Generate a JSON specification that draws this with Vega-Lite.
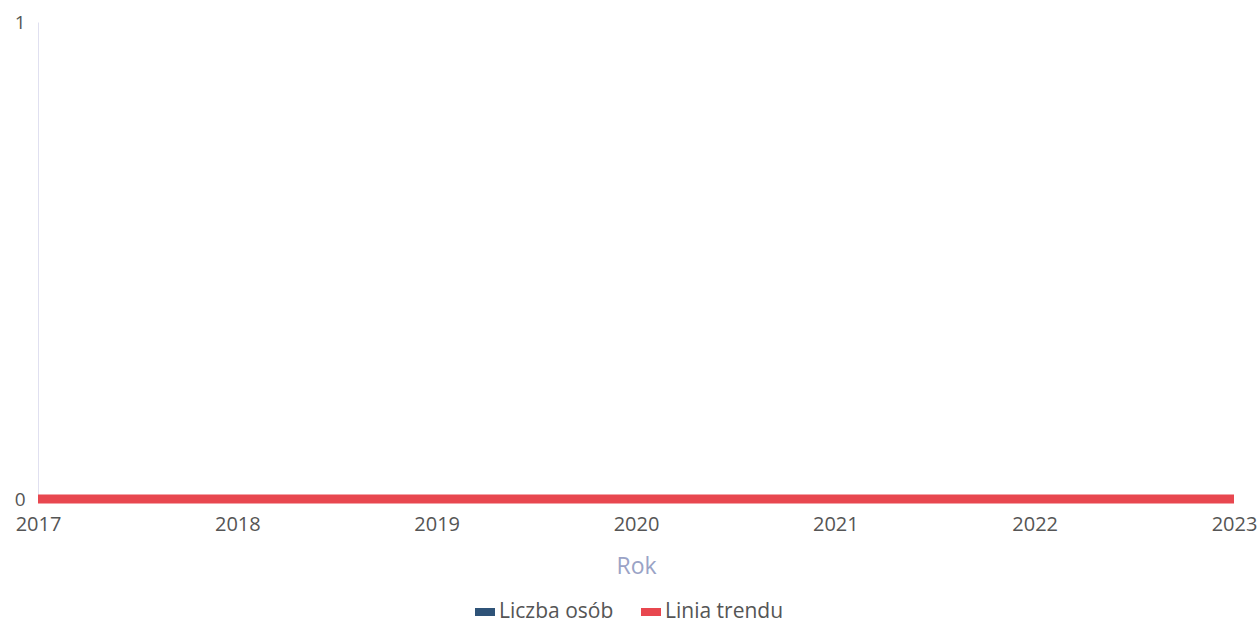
{
  "$schema": "https://vega.github.io/schema/vega-lite/v6.json",
  "autosize": "none",
  "width": 1196,
  "height": 477,
  "padding": {"left": 38, "top": 22, "right": 24, "bottom": 128},
  "background": "white",
  "config": {
    "font": "Open Sans",
    "view": {"stroke": null},
    "axis": {"labelFont": "Open Sans", "titleFont": "Open Sans"}
  },
  "data": {
    "values": [
      {"Rok": 2017, "seria": "Liczba osób", "wartosc": 0},
      {"Rok": 2018, "seria": "Liczba osób", "wartosc": 0},
      {"Rok": 2019, "seria": "Liczba osób", "wartosc": 0},
      {"Rok": 2020, "seria": "Liczba osób", "wartosc": 0},
      {"Rok": 2021, "seria": "Liczba osób", "wartosc": 0},
      {"Rok": 2022, "seria": "Liczba osób", "wartosc": 0},
      {"Rok": 2023, "seria": "Liczba osób", "wartosc": 0},
      {"Rok": 2017, "seria": "Linia trendu", "wartosc": 0},
      {"Rok": 2018, "seria": "Linia trendu", "wartosc": 0},
      {"Rok": 2019, "seria": "Linia trendu", "wartosc": 0},
      {"Rok": 2020, "seria": "Linia trendu", "wartosc": 0},
      {"Rok": 2021, "seria": "Linia trendu", "wartosc": 0},
      {"Rok": 2022, "seria": "Linia trendu", "wartosc": 0},
      {"Rok": 2023, "seria": "Linia trendu", "wartosc": 0}
    ]
  },
  "encoding": {
    "x": {
      "field": "Rok",
      "type": "quantitative",
      "scale": {"domain": [2017, 2023], "nice": false, "zero": false},
      "axis": {
        "values": [2017, 2018, 2019, 2020, 2021, 2022, 2023],
        "format": "d",
        "title": "Rok",
        "titleColor": "#9aa3c6",
        "titleFontSize": 23,
        "titleFontWeight": "normal",
        "titlePadding": 21,
        "labelColor": "#555555",
        "labelFontSize": 20,
        "labelPadding": 15,
        "labelFlush": false,
        "labelOverlap": false,
        "ticks": false,
        "domain": false,
        "grid": false
      }
    },
    "y": {
      "field": "wartosc",
      "type": "quantitative",
      "scale": {"domain": [0, 1], "nice": false},
      "axis": {
        "values": [0, 1],
        "format": "d",
        "title": null,
        "labelColor": "#555555",
        "labelFontSize": 19,
        "labelPadding": 13,
        "labelFlush": false,
        "ticks": false,
        "domain": true,
        "domainColor": "#e0e0f0",
        "domainWidth": 1,
        "grid": false
      }
    },
    "color": {
      "field": "seria",
      "type": "nominal",
      "scale": {"domain": ["Liczba osób", "Linia trendu"], "range": ["#2f5378", "#e8474f"]},
      "legend": {
        "title": null,
        "orient": "none",
        "direction": "horizontal",
        "legendX": 433,
        "legendY": 576,
        "labelFontSize": 21,
        "labelColor": "#555555",
        "symbolType": "stroke",
        "symbolSize": 400,
        "symbolStrokeWidth": 8,
        "columnPadding": 11,
        "labelOffset": 0
      }
    }
  },
  "layer": [
    {
      "transform": [{"filter": "datum.seria === 'Liczba osób'"}],
      "mark": {"type": "line", "strokeWidth": 8, "strokeCap": "butt"}
    },
    {
      "transform": [{"filter": "datum.seria === 'Linia trendu'"}],
      "mark": {"type": "line", "strokeWidth": 9, "strokeCap": "butt"}
    }
  ]
}
